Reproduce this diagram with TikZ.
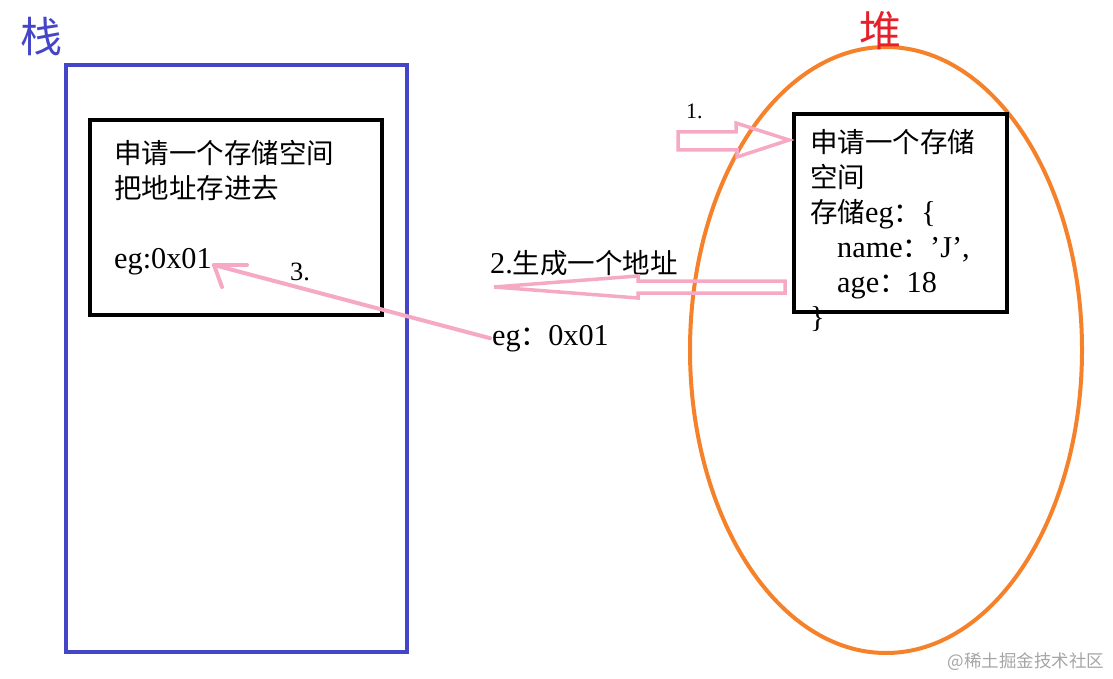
\documentclass[tikz,border=0pt]{standalone}
\usepackage{fontspec}
\setmainfont{Liberation Serif}[Scale=1.1]
\newfontfamily\cjk{Noto Sans CJK SC}
\usetikzlibrary{positioning}
\definecolor{stackCol}{HTML}{4545C8}
\definecolor{heapCol}{HTML}{F5822B}
\definecolor{heapLbl}{HTML}{E5202A}
\definecolor{arrCol}{HTML}{F5A9C4}
\definecolor{markCol}{HTML}{A5A5A5}
\newcommand\txtsz{\fontsize{27.5}{35}\selectfont}
\tikzset{
  frame/.style n args={3}{draw=#1, line width=4pt, minimum width=#2, minimum height=#3,
        anchor=north west, inner sep=0pt},
  boxtxt/.style={anchor=base west, inner sep=0pt, align=left, font=\txtsz},
  areatitle/.style={inner sep=0pt, font=\cjk\fontsize{42}{42}\selectfont, text=#1},
  steplbl/.style={anchor=base west, inner sep=0pt, font=\fontsize{#1}{#1}\selectfont},
  blockarr/.style={draw=arrCol, line width=3.5pt, line join=miter},
  thinarr/.style={draw=arrCol, line width=4pt, line cap=round},
}
\begin{document}
\begin{tikzpicture}[x=1pt, y=-1pt]
  \useasboundingbox (0,0) rectangle (1113,679);
  % stack (left)
  \node[frame={stackCol}{341pt}{587pt}] (stack) at (64,63) {};
  \node[areatitle=stackCol] (stackT) at (41,37) {栈};
  \node[frame={black}{292pt}{195pt}] (sbox) at (88,118) {};
  % base = last line
  \node[boxtxt] (stxt) at (114,268) {{\cjk 申请一个存储空间}\\
    {\cjk 把地址存进去}\\[35pt]
    eg:0x01};
  % heap (right)
  \draw[heapCol, line width=4pt] (886,350) ellipse [x radius=196pt, y radius=303pt];
  \node[areatitle=heapLbl] (heapT) at (880,31) {堆};
  \node[frame={black}{213pt}{198pt}] (hbox) at (792,112) {};
  \node[boxtxt] (htxt) at (810,327) {{\cjk 申请一个存储}\\
    {\cjk 空间}\\
    {\cjk 存储}eg{\cjk ：}\{\\
    \hspace*{27pt}name{\cjk ：}’J’,\\
    \hspace*{27pt}age{\cjk ：}18\\
    \}};
  % step labels
  \node[steplbl=20] (s1) at (686,119) {1.};
  \node[boxtxt] (s2) at (490,273) {2.{\cjk 生成一个地址}};
  \node[boxtxt] (addr) at (492,345) {eg{\cjk ：}0x01};
  \node[steplbl=24] (s3) at (290,280) {3.};
  % 1. request -> heap
  \draw[blockarr] (678,132) -- (736,132) -- (736,123) -- (789,140) -- (737,157)
    -- (737,150) -- (678,150) -- cycle;
  % 2. address back from heap
  \draw[blockarr] (785,281) -- (638,281) -- (638,276) -- (494,287) -- (638,298)
    -- (638,293) -- (785,293) -- cycle;
  % 3. address stored on stack
  \coordinate (a3tip) at (214,265);
  \draw[thinarr] ([xshift=-2pt]addr.west) -- (a3tip);
  \draw[thinarr] (a3tip) -- ++(33,0);
  \draw[thinarr] (a3tip) -- ++(8,22);
  % watermark
  \node[inner sep=0pt, text=markCol, font=\cjk\fontsize{17.5}{17.5}\selectfont] (mark)
    at (1026,662) {@稀土掘金技术社区};
\end{tikzpicture}
\end{document}
